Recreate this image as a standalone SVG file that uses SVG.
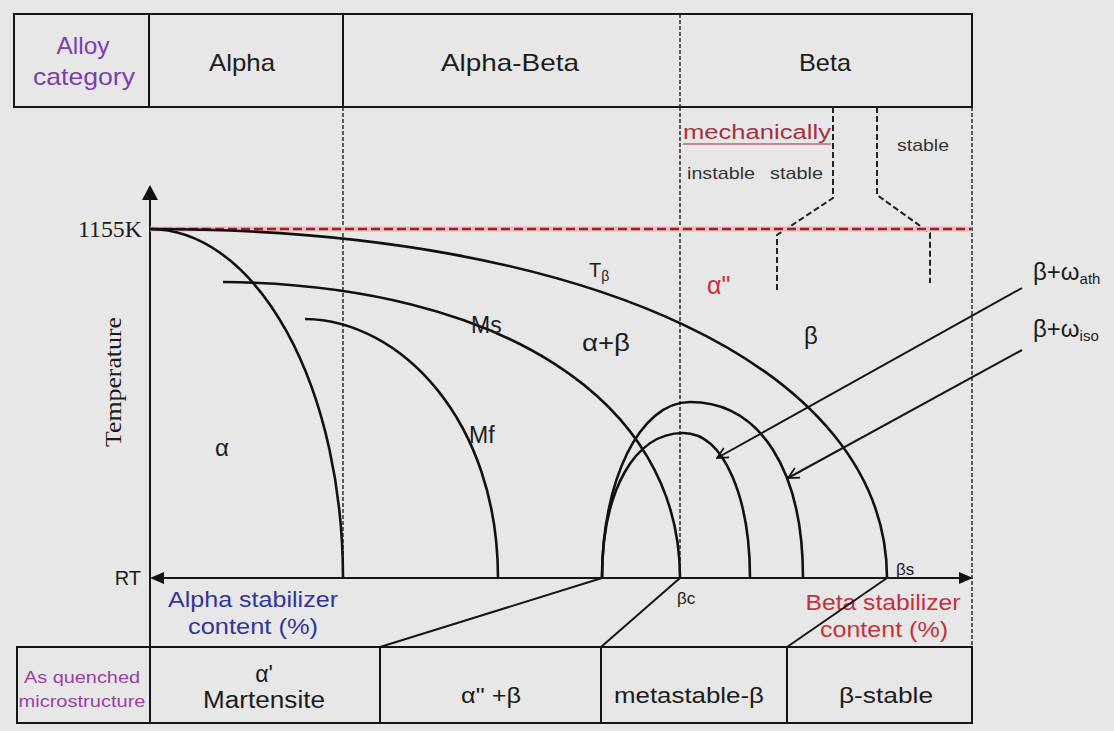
<svg xmlns="http://www.w3.org/2000/svg" width="1114" height="731" viewBox="0 0 1114 731">
<defs>
<style>
.ln{stroke:#151515;stroke-width:2;fill:none}
.cv{stroke:#111;stroke-width:2.6;fill:none}
.dv{stroke:#222;stroke-width:1.4;stroke-dasharray:4 2;fill:none}
.dm{stroke:#222;stroke-width:2;stroke-dasharray:6 3;fill:none}
.t{font-family:'Liberation Sans',Arial,sans-serif;fill:#1c1c1c}
.s{font-family:'Liberation Serif','Times New Roman',serif;fill:#1c1c1c}
.mid{text-anchor:middle}
.pur{fill:#7b3db3}
.mag{fill:#9a3fa6}
.blu{fill:#34349a}
.red{fill:#c8303c}
.gry{fill:#333}
</style>
<marker id="ah" viewBox="0 0 12 12" refX="11" refY="6" markerWidth="13" markerHeight="13" markerUnits="userSpaceOnUse" orient="auto"><path d="M1,1 L11,6 L1,11" fill="none" stroke="#111" stroke-width="1.6"/></marker>
</defs>
<rect x="0" y="0" width="1114" height="731" fill="#e7e7e7"/>

<g id="top-table">
<rect x="14" y="14" width="958" height="93" class="ln"/>
<line x1="149" y1="14" x2="149" y2="107" class="ln"/>
<line x1="343" y1="14" x2="343" y2="107" class="ln"/>
<line x1="680" y1="14" x2="680" y2="107" class="dv"/>
<text x="83" y="54" class="t mid pur" font-size="24" textLength="53" lengthAdjust="spacingAndGlyphs">Alloy</text>
<text x="84" y="85" class="t mid pur" font-size="24" textLength="102" lengthAdjust="spacingAndGlyphs">category</text>
<text x="242" y="71" class="t mid" font-size="24" textLength="66" lengthAdjust="spacingAndGlyphs">Alpha</text>
<text x="510" y="71" class="t mid" font-size="24" textLength="138" lengthAdjust="spacingAndGlyphs">Alpha-Beta</text>
<text x="825" y="71" class="t mid" font-size="24" textLength="52" lengthAdjust="spacingAndGlyphs">Beta</text>
</g>

<g id="bottom-table">
<rect x="17" y="647" width="955" height="76" class="ln"/>
<line x1="380" y1="647" x2="380" y2="723" class="ln"/>
<line x1="601" y1="647" x2="601" y2="723" class="ln"/>
<line x1="787" y1="647" x2="787" y2="723" class="ln"/>
<text x="82" y="683" class="t mid mag" font-size="16" textLength="116" lengthAdjust="spacingAndGlyphs">As quenched</text>
<text x="82" y="707" class="t mid mag" font-size="16" textLength="127" lengthAdjust="spacingAndGlyphs">microstructure</text>
<text x="264" y="682" class="t mid" font-size="23">α'</text>
<text x="264" y="708" class="t mid" font-size="23" textLength="122" lengthAdjust="spacingAndGlyphs">Martensite</text>
<text x="491" y="703" class="t mid" font-size="22" textLength="60" lengthAdjust="spacingAndGlyphs">α" +β</text>
<text x="689" y="703" class="t mid" font-size="22" textLength="150" lengthAdjust="spacingAndGlyphs">metastable-β</text>
<text x="886" y="703" class="t mid" font-size="22" textLength="94" lengthAdjust="spacingAndGlyphs">β-stable</text>
</g>

<g id="region-dividers">
<line x1="343" y1="107" x2="343" y2="578" class="dv"/>
<line x1="680" y1="107" x2="680" y2="578" class="dv"/>
<line x1="972" y1="107" x2="972" y2="647" class="dv"/>
<polyline points="833,107 833,198 777,235 777,293" class="dm"/>
<polyline points="877,107 877,195 930,233 930,283" class="dm"/>
</g>

<g id="beta-labels">
<text x="683" y="139" class="t" font-size="20" style="fill:#a8303c" textLength="148" lengthAdjust="spacingAndGlyphs">mechanically</text>
<line x1="683" y1="144" x2="831" y2="144" stroke="#c0606c" stroke-width="1.5"/>
<text x="687" y="179" class="t gry" font-size="17" textLength="68" lengthAdjust="spacingAndGlyphs">instable</text>
<text x="770" y="179" class="t gry" font-size="17" textLength="53" lengthAdjust="spacingAndGlyphs">stable</text>
<text x="897" y="151" class="t gry" font-size="17" textLength="52" lengthAdjust="spacingAndGlyphs">stable</text>
</g>

<g id="axes">
<line x1="150" y1="195" x2="150" y2="723" class="ln"/>
<path d="M150,185 L158,200 L142,200 Z" fill="#111"/>
<line x1="160" y1="578" x2="962" y2="578" class="ln"/>
<path d="M150,578 L164,572 L164,584 Z" fill="#111"/>
<path d="M973,578 L959,572 L959,584 Z" fill="#111"/>
<text x="142" y="237" class="s" font-size="23" text-anchor="end" textLength="64" lengthAdjust="spacingAndGlyphs">1155K</text>
<text x="0" y="0" class="s mid" font-size="23" textLength="130" lengthAdjust="spacingAndGlyphs" transform="translate(121,382) rotate(-90)">Temperature</text>
<text x="141" y="585" class="t" font-size="20" text-anchor="end">RT</text>
<text x="253" y="607" class="t mid blu" font-size="22" textLength="170" lengthAdjust="spacingAndGlyphs">Alpha stabilizer</text>
<text x="253" y="634" class="t mid blu" font-size="22" textLength="130" lengthAdjust="spacingAndGlyphs">content (%)</text>
<text x="883" y="610" class="t mid red" font-size="22" textLength="155" lengthAdjust="spacingAndGlyphs">Beta stabilizer</text>
<text x="884" y="637" class="t mid red" font-size="22" textLength="128" lengthAdjust="spacingAndGlyphs">content (%)</text>
</g>

<g id="temp-line">
<line x1="150" y1="229" x2="972" y2="229" stroke="#efb9bd" stroke-width="5"/>
<line x1="150" y1="229" x2="972" y2="229" stroke="#9e1f2c" stroke-width="2.4" stroke-dasharray="9 4"/>
</g>

<g id="connectors">
<path d="M150,229 A193,349 0 0 1 343,578" class="cv"/>
<path d="M150,229 C592,229 887,369 887,578" class="cv"/>
<path d="M223,282 C500,285 680,400 680,578" class="cv"/>
<path d="M305,319 C400,320 498,420 498,578" class="cv"/>
<path d="M602,578 C602,480 640,402 690,402 C760,402 803,470 803,578" class="cv"/>
<path d="M602,578 C602,490 635,433 683,433 C725,433 750,500 750,578" class="cv"/>
<line x1="602" y1="578" x2="380" y2="647" class="ln"/>
<line x1="680" y1="578" x2="601" y2="647" class="ln"/>
<line x1="887" y1="578" x2="787" y2="647" class="ln"/>
<line x1="1022" y1="288" x2="717" y2="458" class="ln" marker-end="url(#ah)"/>
<line x1="1022" y1="350" x2="788" y2="478" class="ln" marker-end="url(#ah)"/>
</g>

<g id="phase-labels">
<text x="589" y="277" class="t" font-size="20">T<tspan font-size="14" dy="4">β</tspan></text>
<text x="707" y="294" class="t red" font-size="25">α"</text>
<text x="811" y="344" class="t mid" font-size="24">β</text>
<text x="606" y="351" class="t mid" font-size="24" textLength="48" lengthAdjust="spacingAndGlyphs">α+β</text>
<text x="471" y="333" class="t" font-size="23">Ms</text>
<text x="469" y="443" class="t" font-size="23">Mf</text>
<text x="222" y="456" class="t mid" font-size="24">α</text>
<text x="677" y="604" class="t" font-size="17">βc</text>
<text x="896" y="575" class="t" font-size="17">βs</text>
<text x="1033" y="280" class="t" font-size="24">β+ω<tspan font-size="15" dy="4">ath</tspan></text>
<text x="1033" y="337" class="t" font-size="24">β+ω<tspan font-size="15" dy="4">iso</tspan></text>
</g>
</svg>
